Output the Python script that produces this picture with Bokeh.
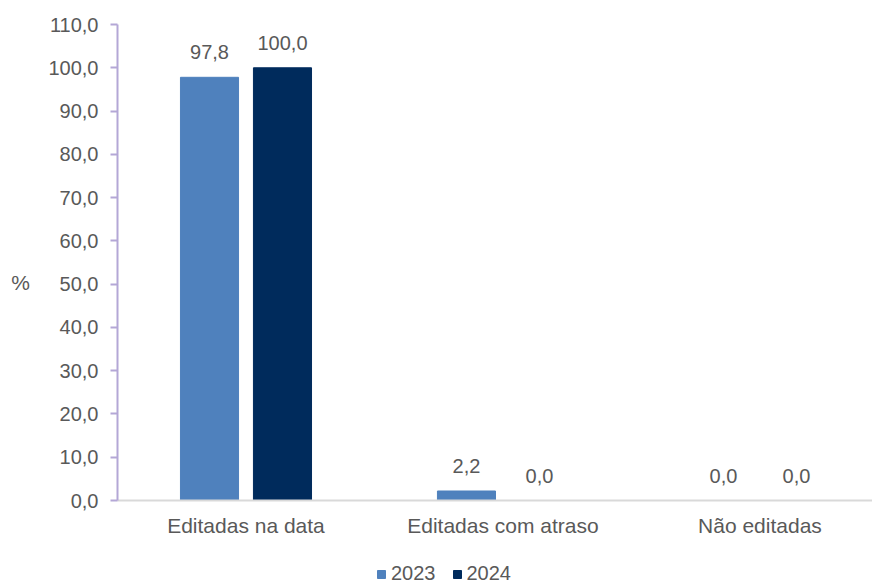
from bokeh.plotting import figure
from bokeh.models import ColumnDataSource, Range1d, FixedTicker, Legend, LegendItem, CustomJSTickFormatter, Label
from bokeh.transform import dodge
from bokeh.core.properties import value
from bokeh.embed import file_html
from bokeh.resources import INLINE

categories = ["Editadas na data", "Editadas com atraso", "Não editadas"]
years = ["2023", "2024"]
values_2023 = [97.8, 2.2, 0.0]
values_2024 = [100.0, 0.0, 0.0]
y_ticks = [0, 10, 20, 30, 40, 50, 60, 70, 80, 90, 100, 110]
y_title = "%"

colors = {"2023": "#4F81BD", "2024": "#002B5C"}
FONT = "Liberation Sans"
TXT = "#595959"

xpos = [i + 0.5 for i in range(len(categories))]
src = ColumnDataSource(dict(
    x=xpos,
    v23=values_2023,
    v24=values_2024,
    l23=[f"{v:.1f}".replace(".", ",") for v in values_2023],
    l24=[f"{v:.1f}".replace(".", ",") for v in values_2024],
))

# frame spans the whole canvas; both axes are pinned at 0
p = figure(width=872, height=583, output_backend="svg", toolbar_location=None,
           x_range=Range1d(-0.4553, 2.938), y_range=Range1d(-19.18, 115.55),
           min_border_left=0, min_border_right=0, min_border_top=0, min_border_bottom=0)
p.outline_line_color = None
p.xgrid.visible = False
p.ygrid.visible = False

off = 0.142
bw = 0.226
r23 = p.vbar(x=dodge("x", -off), top="v23", width=bw, source=src, color=colors["2023"])
r24 = p.vbar(x=dodge("x", off), top="v24", width=bw, source=src, color=colors["2024"])

for col, lab, o in [("v23", "l23", -off), ("v24", "l24", off)]:
    p.text(x=dodge("x", o), y=col, text=lab, source=src, text_align="center",
           text_baseline="middle", y_offset=-25, text_font=value(FONT),
           text_font_size="20px", text_color=TXT)

# y axis
p.yaxis.fixed_location = 0
p.yaxis.ticker = FixedTicker(ticks=y_ticks)
p.yaxis.bounds = (0, 110)
p.yaxis.formatter = CustomJSTickFormatter(code="return tick.toFixed(1).replace('.', ',');")
p.yaxis.axis_line_color = "#B4A7D6"
p.yaxis.axis_line_width = 2
p.yaxis.major_tick_line_color = "#B4A7D6"
p.yaxis.major_tick_line_width = 2
p.yaxis.major_tick_out = 7
p.yaxis.major_tick_in = 0
p.yaxis.minor_tick_line_color = None
p.yaxis.major_label_standoff = 12
p.yaxis.major_label_text_font = FONT
p.yaxis.major_label_text_font_size = "20px"
p.yaxis.major_label_text_color = TXT

p.add_layout(Label(x=-0.377, y=50.4, text=y_title, text_align="center", text_baseline="middle",
                   text_font=FONT, text_font_size="21px", text_color=TXT))

# x axis
p.xaxis.fixed_location = 0
p.xaxis.bounds = (0, 2.938)
p.xaxis.ticker = FixedTicker(ticks=xpos)
p.xaxis.major_label_overrides = {x: c for x, c in zip(xpos, categories)}
p.xaxis.axis_line_color = "#D9D9D9"
p.xaxis.axis_line_width = 2
p.xaxis.major_tick_line_color = None
p.xaxis.minor_tick_line_color = None
p.xaxis.major_label_standoff = 7
p.xaxis.major_label_text_font = FONT
p.xaxis.major_label_text_font_size = "21px"
p.xaxis.major_label_text_color = TXT

legend = Legend(items=[LegendItem(label=years[0], renderers=[r23]),
                       LegendItem(label=years[1], renderers=[r24])],
                location=(376, -2), orientation="horizontal",
                glyph_width=10, glyph_height=10, label_standoff=5, spacing=16,
                padding=0, margin=0, border_line_color=None, background_fill_alpha=0,
                label_text_font=FONT, label_text_font_size="20px", label_text_color=TXT,
                label_height=20)
p.add_layout(legend, "center")

open("out.html", "w").write(file_html(p, INLINE))
